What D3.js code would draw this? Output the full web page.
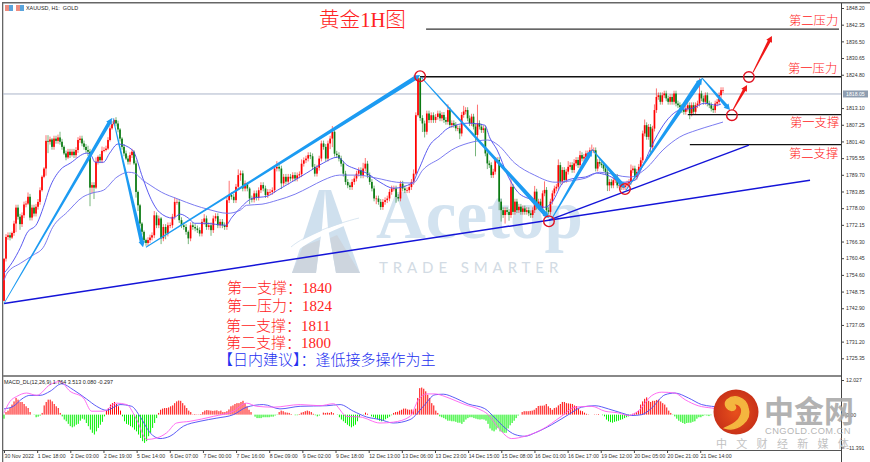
<!DOCTYPE html>
<html><head><meta charset="utf-8">
<style>html,body{margin:0;padding:0;background:#fff}svg{display:block}text{white-space:pre}</style>
<script src="https://cdn.jsdelivr.net/npm/d3@7"></script></head><body>
<svg id="c" width="870" height="462"></svg>
<script>
const firstOpen = 1745.5;
const closes = [
1760.3,1767.9,1768.5,1767.7,1769.3,1772.6,1778.2,1775.0,1772.4,1775.5,1779.3,1779.6,1782.0,1774.7,1778.2,1776.1,1778.5,1780.2,1784.3,1789.0,1791.9,1801.6,1801.3,1802.1,1799.5,1802.4,1801.6,1802.8,1801.3,1799.5,1797.2,1795.8,1797.8,1796.6,1797.8,1796.6,1798.4,1801.9,1802.4,1800.7,1799.5,1798.4,1797.8,1785.2,1786.1,1785.2,1794.3,1796.0,1794.8,1798.1,1798.4,1798.9,1801.9,1806.0,1807.5,1808.9,1807.7,1805.6,1802.4,1799.5,1797.2,1795.4,1794.3,1796.6,1797.8,1793.7,1783.7,1779.0,1772.6,1769.7,1766.8,1765.8,1766.8,1767.7,
1768.5,1775.5,1772.0,1774.4,1767.4,1771.4,1769.1,1772.0,1772.0,1775.0,1780.2,1780.2,1773.8,1772.0,1771.4,1769.7,1767.4,1772.0,1771.4,1770.9,1770.3,1769.1,1773.2,1774.4,1771.4,1772.0,1770.3,1774.4,1775.2,1772.0,1773.2,1772.0,1771.4,1780.8,1782.6,1782.0,1780.8,1785.5,1789.6,1790.2,1784.9,1786.7,1784.9,1781.4,1781.0,1783.2,1781.7,1784.3,1786.1,1784.9,1782.6,1783.7,1783.7,1784.3,1791.9,1792.5,1791.9,1786.7,1789.0,1787.3,1789.0,1788.4,1789.6,
1788.4,1789.5,1789.9,1793.6,1794.8,1795.4,1796.6,1796.2,1792.5,1790.1,1792.2,1795.4,1800.7,1799.5,1795.4,1800.7,1802.4,1804.8,1797.1,1796.6,1795.4,1793.6,1790.1,1787.2,1786.0,1785.4,1787.2,1788.4,1790.1,1791.3,1789.5,1791.9,1793.6,1789.5,1787.2,1784.9,1781.4,1781.4,1780.2,1778.4,1780.2,1780.8,1781.4,1783.7,1784.9,1784.9,1781.9,1781.4,1786.6,1784.9,1784.3,1784.3,1785.4,1787.2,1790.1,1810.6,1823.6,1809.6,1807.7,1804.8,1811.2,1808.9,1810.6,1808.9,1810.0,1811.2,
1809.5,1810.7,1808.9,1808.3,1812.4,1807.2,1807.8,1807.2,1806.0,1806.0,1804.2,1810.7,1811.9,1812.4,1809.5,1807.8,1810.1,1806.6,1803.7,1807.8,1806.6,1805.4,1806.0,1797.2,1793.7,1793.1,1789.6,1790.8,1794.9,1794.9,1780.3,1777.3,1775.6,1777.3,1776.7,1775.6,1785.5,1776.7,1780.3,1777.3,1778.5,1776.7,1777.9,1776.7,1777.3,1776.2,1775.6,1777.3,1783.8,1778.5,1780.3,1777.9,1783.2,1784.4,1777.3,1776.7,1780.3,1783.2,1784.9,1785.5,1793.1,1787.3,1791.4,1787.9,1790.8,1792.5,1793.1,1791.4,1793.7,1794.9,1793.1,1796.6,
1795.4,1796.0,1797.2,1797.2,1798.3,1798.3,1798.3,1791.9,1794.2,1793.6,1793.1,1791.9,1790.7,1786.0,1787.2,1786.0,1787.8,1789.0,1786.0,1786.0,1785.4,1785.4,1786.0,1786.6,1787.2,1791.3,1791.9,1789.0,1790.7,1792.5,1794.8,1804.2,1807.1,1803.0,1806.5,1799.5,1805.9,1812.4,1817.0,1817.6,1815.3,1817.6,1818.2,1816.5,1815.3,1817.0,1815.3,1818.2,1814.7,1814.1,1813.5,1812.4,1811.8,1812.9,1814.1,1811.2,1814.1,1811.8,1814.1,1814.7,1818.2,1816.5,1815.3,1817.6,1814.7,1814.1,1812.9,1812.4,1814.7,1815.3,1817.6,1819.4,1819.4];
const closeSectionStarts = [0,74,137,203,275,347];
const closeSectionPixels = [4,152,295,440,582,723];
const upWick = [
0,1,1,1,.5,1,1,1,1,1,1,1,1.5,1,1,1,1,1,1,.5,.5,2,2,1,.5,1,1,1,2,1,.5,1,1,1,1,1,1,1,1,1,1,1,1.5,1,1,1,1.5,.5,1,1.5,1,1,1,1,1,.5,1,1,.5,.5,1,1,1,1,1,.5,1,.5,.5,.5,.5,.5,1,1,
1,1.5,1,1,.5,1,1,1,1,1,1.5,1,1,1,1,1,.5,1,1,1,1,1,1,1.5,1,1,1,1,1,1,1,1,1,1,5,1,1,1,2,1,1,1,.5,.5,1,1,1,1,1,1,1,1,1,1,1,2,1,1,1,1,1,1,1,
1,1,1,1.5,1,1,1,1,1,1,1,1,1,1,1,1,1,2,1,1,1,1,1,1,1,1,1,1,1,1,1,2,2,1,1,1,1,1,1,1,1,1,1,1,1,1,1,1,1,1,1,1,1,1,1.5,1,.5,.5,1,1,1,1,1,1,1,1,
1,1,1,1,2,1,1,1,1,1,1,1,2,1,1,1,1,1,1,6.5,1,1,1,1,1,1,1,1,1,1,1,1,1,1,1,1,4,1,1,1,1,1,1,1,1,1,1,1,2,1,1,1,1,3,1,1,1,1,1,1,2,1,1,1,1,2,1,1,1.5,1,1,1.5,
1,1,1,1,1,2,1,1,1,1,1,1,1,1,1,1,1,1,1,1,1,1,1,1,1,2,1,1,1,1,1,1,2,1,1,1,1,2,3,1,1,1,1,1,1,1,1,1,1,1,1,1,1,1,1,1,1,1,1,1,5.3,1,1,1,1,1,1,1,1,1,1,1,1];
const downWick = [
0,1,1,1,.5,1,3,1,2,1,1,1,.5,1,1,1,1,1,1,.5,.5,2.5,4,1,1,1,1,1,1,1,.5,1,.5,1,.5,1,1,1,1,1,1,1,1.5,6.5,2,4,.5,1,1,1,.5,.5,.5,.5,.5,.5,1,1,1,1,1,.5,1,1,1,.5,2,2,1,1,1,1,1,1,
1,1,1,1,2,1,2,1,1,1,1,1,1,1,1,1,2,1,1,1,1,1,1,1,1,1,2,1,1,1,1,1,1,1,1,1,1,1,1,2,1,1,1,2,1,1,1,1,1,1,1,1,1,1,1,1,1,2,1,1,1,1,1,
1,1,1,1,1,1,1,1,1,1,1,1,1,1,1,1,2,3,1,1,1,1,1,1,1,1,1,1,1,1,1,1,1,1,1,1,1,2,1,1,1,1,1,1,1,1,2,1,1,1,1,1,1,1,1,.5,.5,1,3,2,1,1,1,1,1,1,
1,1,1,1,1,1,1,1,1,1,2,1,1,1,1,1,1,1,7.5,2,1,1,1,1,2,1,1,1,1,1,3,4,1,3,1,2,1,1,1,1,1,1,1,1,1,1,1,1,1,1,1,1,1,1,1,1,1,1,1,1,1,1,1,1,1,1,1,1,1,1,1,1,
1,1,1,1,1,1,1,1,1,1,1,1,1,2,2,1,1,1,1,1,1,1,1,1,1,1,1,1,1,1,1,1,1,1,1,2,1,1,1,1,1,1,1,1,1,1,1,1,1,1,1,1,1,1,1,2,1,1,1,1,1,1,1,1,1,1,1,1,1,1,1,1,1];
const maFastBars = [0,4,8,11,16,19,22,27,32,40,42,44,48,51,55,62,67,70.5,75,81.5,85,89,92,97,107,110,114,120,127,132,137,146,154,161,165.5,170,175,181.5,188,197,200,205.5,210.5,213,218,224,232,234.5,238,243,248,255,261,264.5,270,275.5,280.5,286,291,299,304.5,308,314,320,326,332.5,338,344,346];
const maFastPrices = [1755.2,1759.0,1764.3,1769.2,1772.7,1778.3,1785.0,1791.3,1793.8,1797.3,1796.6,1794.1,1794.1,1797.3,1800.5,1798.4,1788.5,1781.9,1776.6,1774.5,1775.9,1774.5,1772.7,1772.7,1772.0,1774.8,1778.0,1781.5,1782.2,1784.3,1786.4,1790.3,1793.8,1795.9,1793.1,1791.7,1790.3,1787.1,1785.0,1786.8,1791.3,1800.1,1803.6,1805.4,1807.1,1807.8,1807.1,1802.6,1798.4,1789.6,1783.6,1780.8,1778.3,1780.1,1787.1,1788.5,1788.9,1790.3,1789.6,1787.1,1787.8,1792.4,1801.9,1808.9,1812.4,1813.1,1814.8,1814.1,1814.5];
const maSlowBars = [0,1.5,8,14,19,23.5,30.5,38,42.5,48,54.5,60,63,67,70.5,76,84,92,98.5,108,114,117,124.5,132,140.5,147.5,154,162,170.5,180,189.5,197.5,202,210.5,216,224,233.5,238.5,246.5,256,266,275.5,280.5,287.5,302,310,318,326,334.5,342,347];
const maSlowPrices = [1752.7,1755.2,1758.7,1761.5,1764.3,1771.3,1776.6,1781.9,1783.3,1784.3,1788.9,1790.6,1790.3,1787.8,1786.1,1783.6,1781.2,1779.0,1777.6,1776.2,1777.3,1779.0,1779.4,1780.8,1782.9,1785.4,1787.8,1789.6,1789.6,1788.5,1787.1,1786.8,1791.3,1795.5,1798.4,1800.8,1801.9,1800.1,1793.8,1789.6,1787.1,1787.8,1788.5,1790.6,1788.9,1792.0,1798.4,1802.9,1805.4,1807.1,1808.2];
const macdHist = [-1.4,.9,1.4,2.3,3.5,4.6,5.8,5.2,4.4,4.4,3.7,2.9,2.3,.9,0,-.1,-.9,-.7,-.3,.6,3.2,4.4,5.2,5.2,4.6,3.7,2.9,2.3,.6,-.6,-1.7,-2.3,-3.2,-4,-4.4,-4.1,-3.5,-3.2,-2.1,-1.4,-1.7,-2.9,-4,-5.2,-6.3,-6.9,-5.8,-4.6,-3.5,-2.5,-.6,1.4,2.3,3.5,4,4.4,3.7,2.9,1.4,-.6,-2.3,-3.2,-3.5,-4,-4.4,-5.2,-5.8,-6.9,-8.1,-9.2,-9.8,-9.2,-7.5,-6.3,-4.6,-2.9,-1.2,.6,1.7,2.1,2.3,2.3,2.5,2.9,3.2,4,4.6,4.9,4.8,4,3.2,2.3,1.4,.9,.1,.2,.1,.1,.2,.9,1.4,1.6,1.5,1.4,1.3,1.4,1.5,1.2,1.4,.9,.9,1.2,1.8,2.9,3.2,3.7,4,4,4.4,4.8,4,2.9,1.7,.9,0,-.7,-1.2,-1.2,-1.2,-.9,-.9,-.9,-.9,-.7,-.7,-.3,-.1,.9,1.4,1.2,.8,.7,.6,.2,0,-.2,-.2,.2,.7,.9,1.2,1.4,1.2,.9,.3,-.2,-.6,-.3,0,.7,.6,.7,.6,.9,.5,0,-.1,-.9,-1.7,-2.3,-2.9,-3.5,-4,-4.4,-4,-3.5,-2.3,-.9,0,-.1,.7,.3,0,-.6,-.9,-1.2,-1.6,-2.1,-2.3,-2.1,-1.6,-1.2,-.7,-.2,.6,.9,1,1.4,1.7,2.1,2.1,1.8,1.7,1.8,1.7,2.1,5.8,9.2,9.4,9,8.1,6.9,5.8,4,3.2,1.4,
.6,-.6,-.9,-1.2,-1.6,-2.1,-2.1,-2.3,-2.3,-2.5,-2.8,-2.8,-3.2,-2.5,-1.7,-1.2,-.9,-.9,-1.2,-1.4,-1.6,-1.7,-1.6,-1.7,-2.1,-3.2,-4.8,-5.5,-5.8,-5.2,-4.6,-5.8,-6,-6.3,-6.3,-4.8,-3.7,-2.9,-2.1,-1.2,-.3,0,.9,1.2,1.2,1.2,1.3,1.4,1.7,2.3,3,3.1,3.1,3.2,3.7,2.9,2.3,1.7,2.3,2.5,3.2,3.7,4.4,4.4,4,3.9,3.8,3.7,3.2,3,2.1,1.4,1.2,.7,.3,.1,0,0,.1,.1,.2,0,-.2,-.6,-1.7,-2.3,-2.6,-2.8,-2.5,-2.3,-2.1,-1.8,-1.6,-1.2,-.9,-.6,-.2,.3,.6,.9,1.4,3.5,4.6,5.5,6,4.8,4.4,4.8,4.8,5.1,5.2,4.6,4,3.5,2.5,1.4,.6,-.1,-.6,-1.4,-2.1,-2.5,-2.9,-3.2,-2.9,-2.8,-2.8,-2.5,-2.3,-1.4,-.9,-.9,-.5,-.2,-.3,-.5,-.2,0,.2,.5,.7,.9,.9];
const macdMainBars = [0,2.9,6.1,10.9,15.8,22.2,27,31.9,38.3,42.3,47.9,54.4,59.2,64,68.9,73.7,78.5,83.3,89.8,101,110.7,117,122,130,143,152.5,159,165.4,171.8,181.5,187.9,196,200,204,208,212.8,217.7,222.5,229,233.7,238.6,245,251.4,259.5,269,275.6,283.6,290,296.5,301.3,306,312.6,317.4,323.8,328.7,335,341.5,347];
const macdMainVals = [.6,4.6,6.3,7.5,6.7,10.4,11.5,8.1,5.8,1.2,1.2,4,3.5,-1.7,-8.6,-8.1,-6.3,-2.9,-2.3,-.6,1.2,4,2.9,2.6,3.5,3.1,3.8,-.6,-.8,-2.9,-2.6,-.6,5.2,7.2,7.2,6.3,4.9,3.5,2,0,-4.6,-8.3,-7.5,-5.2,-.6,2.6,2.9,1.2,.6,-.3,1.2,6.6,7.8,7.5,5.2,3.1,2.3,1.8];
const macdSignalBars = [0,4.5,9.3,12.5,17.4,22.2,27.8,33.5,39.9,44.7,49.5,56,61.6,65.6,70.5,75.3,80.1,86.6,94.6,102.7,110.7,117.1,125.2,133.2,142.9,155.8,162.2,168.6,175,181.5,187.9,196,202.4,208,212,217.7,224,232,237,241.8,246.6,251.4,256.3,264.3,272.4,278.8,285.2,291.7,298,303,307.8,312.6,319,323.8,330.3,336.7,341.5,347];
const macdSignalVals = [2,2.9,5.8,6.7,6.7,8.1,10.7,8.6,5.4,2.9,1.5,3.5,2.9,-.6,-6.3,-8.3,-7.5,-4,-2.3,-1.2,0,2.6,3.5,2,2.9,3.1,3.5,1.2,-.8,-1.7,-2.9,-1.7,2.9,6.9,7.1,5.8,3.7,2.1,-1.2,-4.6,-6.9,-7.5,-6.3,-3.5,0,2.6,3.1,2,.6,-.3,0,2.3,6.9,7.5,5.8,3.5,2.9,2.5];
const priceTicks = [1848.20,1842.35,1836.50,1830.65,1824.80,1813.10,1807.25,1801.40,1795.55,1789.70,1783.85,1778.00,1772.15,1766.30,1760.45,1754.60,1748.75,1742.90,1737.05,1731.20,1725.35];
const timeLabels = ["30 Nov 2022","1 Dec 18:00","2 Dec 03:00","2 Dec 19:00","5 Dec 14:00","6 Dec 07:00","7 Dec 00:00","7 Dec 16:00","8 Dec 09:00","9 Dec 02:00","9 Dec 18:00","12 Dec 13:00","13 Dec 06:00","13 Dec 23:00","14 Dec 15:00","15 Dec 08:00","16 Dec 01:00","16 Dec 17:00","19 Dec 12:00","20 Dec 05:00","20 Dec 21:00","21 Dec 14:00"];
const currentPrice = 1818.05;
const levels = [[203.7,403,1840.8],[200.8,404,1824.1],[330,404,1810.8],[331,404,1800.3]];
const trendLines = [[0,1744.6,389,1787.8],[263,1773.8,359.5,1800.1]];
const blueArrows = [[0,1744.6,52.1,1809.6,.8,3.5],[52.6,1809.6,67.1,1764.3,.8,4],[68.5,1764.3,200.8,1824.7,1,4.5],[201.2,1824,263,1774.5,1,4.5],[264.5,1774.5,283.8,1798.4,1,4],[283.8,1798.7,299.7,1785,.8,4.5],[300.2,1784.3,336.9,1823.6,1,5],[336.9,1823.6,350.4,1812.4,1,3.5]];
const redArrows = [[351.8,1812.4,358.6,1821.2,1,3],[361.5,1825.7,370.6,1838.4,1,3]];
const circles = [[200.8,1824.3],[263,1773.4],[299.7,1784.7],[351.3,1810.6],[359.5,1824]];

const serif = '"Liberation Serif","Noto Sans CJK SC",serif';
const small = '"Liberation Sans",Arial,sans-serif';
const svg = d3.select("#c");
const x = d3.scaleLinear().domain([0,347]).range([4,723]);
const xc = d3.scaleLinear().domain(closeSectionStarts).range(closeSectionPixels);
const y = d3.scaleLinear().domain([1848.2,1725.35]).range([8,358.3]);
const xh = d3.scaleLinear().domain([0,macdHist.length-1]).range([4,723]);
const ym = d3.scaleLinear().domain([12.027,-11.4]).range([380,447.5]);

// watermark
const wm = svg.append("g");
wm.append("path").attr("d","M325 190 L319 190 L292 273 L316 273 L322 228 Z").attr("fill","#cfe0ee");
wm.append("path").attr("d","M325 190 L331 190 L360 273 L336 273 L328 228 Z").attr("fill","#cfe0ee");
wm.append("path").attr("d","M303 246 L292 273 L316 273 L320 240 Z M337 235 L360 273 L336 273 L330 238 Z").attr("fill","#cdd5de");
wm.append("path").attr("d","M291 248 C305 236 335 225 355 219 L352 217 L361 217 L356 223 L355 221 C335 230 310 240 297 251 Z").attr("fill","#fff");
wm.append("path").attr("d","M291 247 C305 235 335 224 359 218").attr("fill","none").attr("stroke","#cfe0ee").attr("stroke-width",.8);
wm.append("text").attr("x",376).attr("y",238).attr("font-family",serif).attr("font-size",69).attr("font-weight",700).attr("fill","#d3e3f0").text("Acetop");
wm.append("text").attr("x",379).attr("y",273).attr("font-family","Lato").attr("font-size",15).attr("letter-spacing",4.9).attr("fill","#d2dbe4").text("TRADE SMARTER");

// frame
svg.append("rect").attr("x",2).attr("y",2).attr("width",868).attr("height",1.5).attr("fill","#666");
svg.append("rect").attr("x",2).attr("y",2).attr("width",1.3).attr("height",460).attr("fill","#666");
svg.append("rect").attr("x",3).attr("y",375).attr("width",838).attr("height",2).attr("fill","#888");
svg.append("rect").attr("x",3).attr("y",450).attr("width",838).attr("height",1).attr("fill","#555");

// current price line
svg.append("line").attr("x1",3).attr("x2",841).attr("y1",y(currentPrice)).attr("y2",y(currentPrice)).attr("stroke","#aab4c9").attr("stroke-width",1);

// candles
const opens = closes.map((c,i)=> i? closes[i-1] : firstOpen);
const cg = svg.append("g");
closes.forEach((c,i)=>{
  const o=opens[i], col=c>=o?"#ff0000":"#0b7a12";
  const hi=Math.max(o,c)+(upWick[i]||0), lo=Math.min(o,c)-(downWick[i]||0);
  cg.append("line").attr("x1",xc(i)).attr("x2",xc(i)).attr("y1",y(hi)).attr("y2",y(lo)).attr("stroke",col).attr("stroke-width",1).attr("opacity",.55);
  cg.append("rect").attr("x",xc(i)-.85).attr("width",1.7).attr("y",y(Math.max(o,c))).attr("height",Math.max(.7,Math.abs(y(o)-y(c)))).attr("fill",col);
});

// moving averages
const ln = d3.line().x(d=>x(d[0])).y(d=>y(d[1])).curve(d3.curveMonotoneX);
[[maFastBars,maFastPrices,"#4848ee"],[maSlowBars,maSlowPrices,"#6c6cee"]].forEach(([b,p,col])=>{
  svg.append("path").attr("d",ln(b.map((v,i)=>[v,p[i]]))).attr("fill","none").attr("stroke",col).attr("stroke-width",.9);
});

// levels
levels.forEach(([a,b,p],i)=>svg.append("line").attr("x1",x(a)).attr("x2",x(b)).attr("y1",y(p)).attr("y2",y(p)).attr("stroke",i==0?"#333":"#111").attr("stroke-width",1.4));
// trend lines
trendLines.forEach(t=>svg.append("line").attr("x1",x(t[0])).attr("y1",y(t[1])).attr("x2",x(t[2])).attr("y2",y(t[3])).attr("stroke","#1414d8").attr("stroke-width",1.5));

// tapered arrows
function arrow(a,col){
  const [x1,y1,x2,y2]=[x(a[0]),y(a[1]),x(a[2]),y(a[3])];
  const L=Math.hypot(x2-x1,y2-y1), ux=(x2-x1)/L, uy=(y2-y1)/L, nx=-uy, ny=ux;
  const w0=a[4]/2, w1=a[5]/2, hl=6, hw=3.2;
  const bx=x2-ux*hl, by=y2-uy*hl;
  const pts=[[x1+nx*w0,y1+ny*w0],[bx+nx*w1,by+ny*w1],[bx+nx*hw,by+ny*hw],[x2,y2],[bx-nx*hw,by-ny*hw],[bx-nx*w1,by-ny*w1],[x1-nx*w0,y1-ny*w0]];
  svg.append("polygon").attr("points",pts.map(p=>p.join(",")).join(" ")).attr("fill",col);
}
blueArrows.forEach(a=>arrow(a,"#1c9bf2"));
redArrows.forEach(a=>arrow(a,"#f01818"));
circles.forEach(c=>svg.append("circle").attr("cx",x(c[0])).attr("cy",y(c[1])).attr("r",5.3).attr("fill","none").attr("stroke","#e01020").attr("stroke-width",1.4));

// price axis
const ax = svg.append("g").attr("transform","translate(841,0)").call(d3.axisRight(y).tickValues(priceTicks).tickSize(3).tickFormat(d3.format(".2f")));
ax.select(".domain").attr("d","M0.5,3V462").attr("stroke","#444");
ax.selectAll("line").attr("stroke","#444");
ax.selectAll("text").attr("x",5).attr("font-family",small).attr("font-size",5.2).attr("fill","#333");
svg.append("rect").attr("x",843).attr("y",y(currentPrice)-3.5).attr("width",25).attr("height",7).attr("fill","#8e9db0");
svg.append("text").attr("x",846).attr("y",y(currentPrice)+2).attr("font-family",small).attr("font-size",5.2).attr("fill","#fff").text(currentPrice.toFixed(2));

// header + labels
svg.append("rect").attr("x",5).attr("y",5).attr("width",7.5).attr("height",6).attr("fill","#ee8d80");
svg.append("rect").attr("x",9).attr("y",5).attr("width",4).attr("height",6).attr("fill","#5aa4dc");
svg.append("rect").attr("x",16).attr("y",5).attr("width",7.5).attr("height",6).attr("fill","#ee8d80");
svg.append("rect").attr("x",20).attr("y",5).attr("width",4).attr("height",6).attr("fill","#5aa4dc");
svg.append("text").attr("x",26).attr("y",10).attr("font-family",small).attr("font-size",5.4).attr("fill","#222").text("XAUUSD, H1:  GOLD");
svg.append("text").attr("x",319).attr("y",26.5).attr("font-family",serif).attr("font-weight",300).attr("font-size",20.6).attr("fill","#f22").text("黄金1H图");
const labelRows = [["第二压力",789,25,12.3],["第一压力",788,73,12.3],["第一支撑",790,127,12.3],["第二支撑",789,158,12.3],
 ["第一支撑：1840",227,293,15],["第一压力：1824",227,311,15],["第一支撑：1811",226,331,15],["第二支撑：1800",226,348,15]];
labelRows.forEach(r=>svg.append("text").attr("x",r[1]).attr("y",r[2]).attr("font-family",serif).attr("font-weight",300).attr("font-size",r[3]).attr("fill","#f22").text(r[0]));
svg.append("text").attr("x",218).attr("y",365).attr("font-family",serif).attr("font-weight",300).attr("font-size",15).attr("fill","#2430f0").text("【日内建议】：逢低接多操作为主");

// MACD
const mg = svg.append("g");
macdHist.forEach((v,i)=>mg.append("line").attr("x1",xh(i)).attr("x2",xh(i)).attr("y1",ym(0)).attr("y2",ym(v)).attr("stroke",v>=0?"#ff0000":"#00f000").attr("stroke-width",1));
const lm = d3.line().x(d=>x(d[0])).y(d=>ym(d[1])).curve(d3.curveMonotoneX);
svg.append("path").attr("d",lm(macdSignalBars.map((v,i)=>[v,macdSignalVals[i]]))).attr("fill","none").attr("stroke","#4a4af5").attr("stroke-width",.9);
svg.append("path").attr("d",lm(macdMainBars.map((v,i)=>[v,macdMainVals[i]]))).attr("fill","none").attr("stroke","#ff5cf0").attr("stroke-width",.9);
svg.append("text").attr("x",4).attr("y",384).attr("font-family",small).attr("font-size",5.4).attr("fill","#222").text("MACD_DL(12,26,9) 1.764 3.513 0.080 -0.297");
const am = svg.append("g").attr("transform","translate(841,0)").call(d3.axisRight(ym).tickValues([12.027,0,-11.391]).tickSize(3).tickFormat(d=>d===0?"0.00":d3.format(".3f")(d)));
am.select(".domain").remove();
am.selectAll("line").attr("stroke","#444");
am.selectAll("text").attr("x",5).attr("font-family",small).attr("font-size",5.2).attr("fill","#333");

// time axis
const timeBars = timeLabels.map((_,i)=>i*16);
const at = svg.append("g").attr("transform","translate(0,450.5)").call(d3.axisBottom(x).tickValues(timeBars).tickSize(2.5).tickFormat((d,i)=>timeLabels[i]));
at.select(".domain").remove();
at.selectAll("line").attr("stroke","#444");
at.selectAll("text").attr("y",3.5).attr("text-anchor","start").attr("font-family",small).attr("font-size",5.2).attr("fill","#333");

// publisher logo
const lg = svg.append("g");
const gd = svg.append("defs").append("radialGradient").attr("id","g1");
gd.append("stop").attr("offset","0").attr("stop-color","#e8501c");
gd.append("stop").attr("offset","1").attr("stop-color","#c93218");
lg.append("circle").attr("cx",736).attr("cy",412).attr("r",22.5).attr("fill","url(#g1)");
lg.append("path").attr("d","M725 428 C738 432 752 420 748 408 C746 397 734 394 727 400 C723 405 728 412 734 410 C737 408 735 404 732 405 C738 401 744 408 741 415 C738 423 731 425 725 428 Z").attr("fill","#f4b63f").attr("stroke","#f4b63f").attr("stroke-width",1.5);
lg.append("text").attr("x",764).attr("y",422).attr("font-family",'"Noto Sans CJK SC"').attr("font-weight",700).attr("font-size",30).attr("fill","#aaa").attr("opacity",.9).text("中金网");
lg.append("text").attr("x",765).attr("y",434).attr("font-family","'Liberation Sans'").attr("font-size",9.3).attr("letter-spacing",.45).attr("fill","#b5b5b5").text("CNGOLD.COM.CN");
lg.append("text").attr("x",716).attr("y",448).attr("font-family",'"Noto Sans CJK SC"').attr("font-size",11).attr("letter-spacing",9.3).attr("fill","#c2c2c2").text("中文财经新媒体");
</script></body></html>
